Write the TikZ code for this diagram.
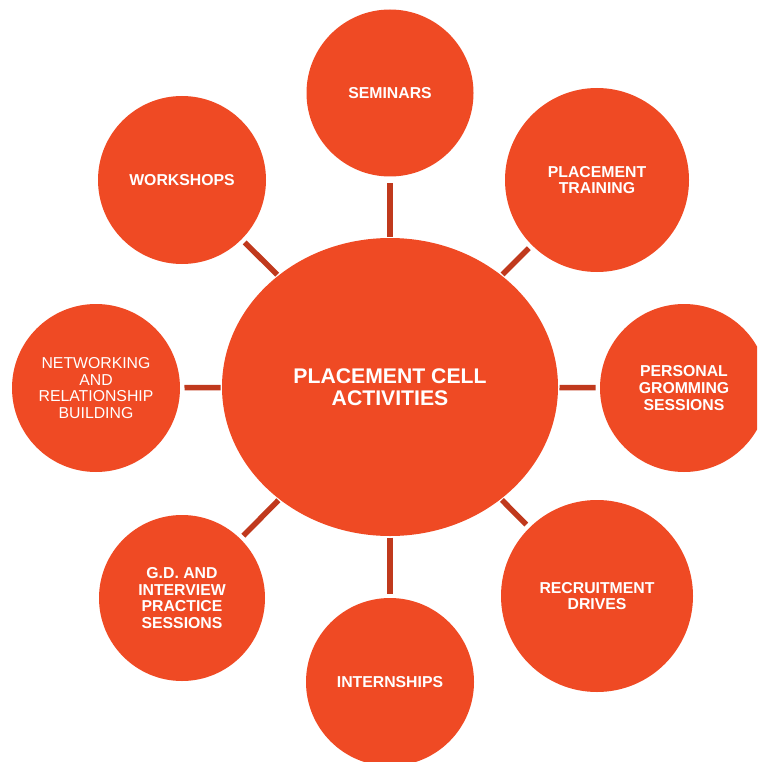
\documentclass[tikz,border=0pt]{standalone}
\usepackage{fontspec}
\setmainfont{Liberation Sans}
\usetikzlibrary{shapes.geometric}
\definecolor{bubble}{RGB}{239,74,36}
\definecolor{linkred}{RGB}{192,57,29}
\begin{document}
\begin{tikzpicture}[x=1pt,y=-1pt,
  bub/.style={circle,fill=bubble,draw=none,inner sep=0pt,outer sep=0pt,text=white,align=center,
    font=\fontsize{15.8}{16.7}\selectfont\bfseries},
  bubreg/.style={bub,font=\fontsize{15.8}{16.7}\selectfont},
  hub/.style={ellipse,fill=bubble,draw=none,inner sep=0pt,outer sep=0pt,text=white,align=center,
    minimum width=336pt,minimum height=298pt,font=\fontsize{21.2}{21.7}\selectfont\bfseries},
  conn/.style={draw=linkred,line width=5.5pt,shorten <=1.5pt,shorten >=4.5pt}]
\useasboundingbox (0,0) rectangle (757,762);
\clip (0,0) rectangle (757,762);
\node[hub] (c) at (390,387) {PLACEMENT CELL\\ACTIVITIES};
\node[bub,minimum size=167pt] (sem) at (390,93) {SEMINARS};
\node[bub,minimum size=184pt] (pt) at (597,180) {PLACEMENT\\TRAINING};
\node[bub,minimum size=168pt] (pg) at (684,388) {PERSONAL\\GROMMING\\SESSIONS};
\node[bub,minimum size=192pt] (rd) at (597,596) {RECRUITMENT\\DRIVES};
\node[bub,minimum size=168pt] (in) at (390,682) {INTERNSHIPS};
\node[bub,minimum size=166pt] (gd) at (182,598) {G.D. AND\\INTERVIEW\\PRACTICE\\SESSIONS};
\node[bubreg,minimum size=168pt] (nw) at (96,388) {NETWORKING\\AND\\RELATIONSHIP\\BUILDING};
\node[bub,minimum size=168pt] (ws) at (182,180) {WORKSHOPS};
\draw[conn,shorten >=6pt] (c) -- (sem);
\draw[conn] (c) -- (pt);
\draw[conn] (c) -- (pg);
\draw[conn] (c) -- (rd);
\draw[conn] (c) -- (in);
\draw[conn] (c) -- (gd);
\draw[conn] (c) -- (nw);
\draw[conn] (c) -- (ws);
\end{tikzpicture}
\end{document}
